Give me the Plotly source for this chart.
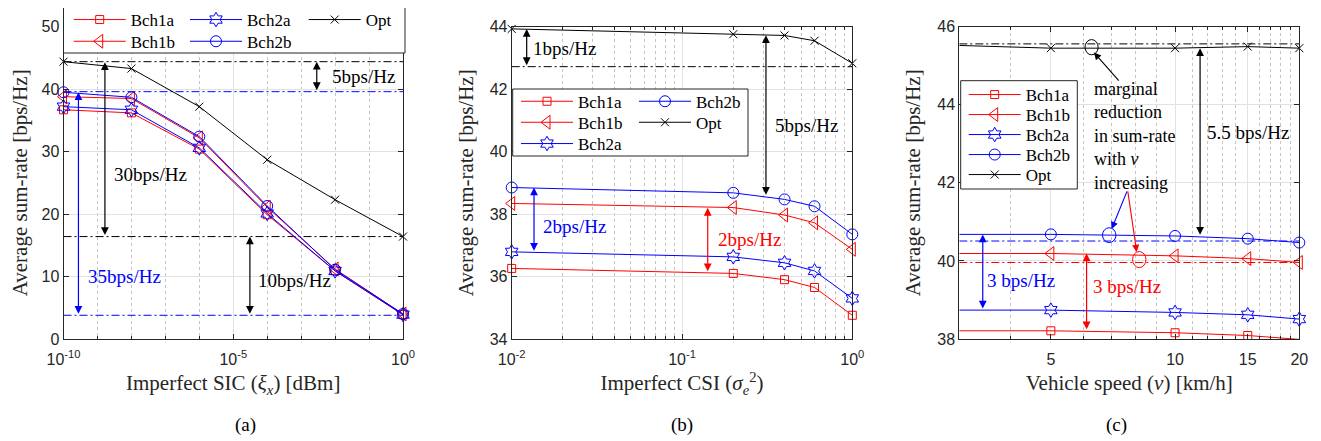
import numpy as np
import plotly.graph_objects as go

# ---- data ----
# (a) imperfect SIC
sic = [1e-10, 1e-8, 1e-6, 1e-4, 1e-2, 1]
a_bch1a = [36.7, 36.2, 30.4, 19.9, 10.9, 3.9]
a_bch1b = [38.8, 38.5, 32.2, 21.1, 11.2, 4.0]
a_bch2a = [37.2, 36.7, 30.6, 20.1, 10.9, 3.9]
a_bch2b = [39.5, 38.7, 32.4, 21.3, 11.1, 4.0]
a_opt = [44.4, 43.3, 37.2, 28.7, 22.3, 16.4]
a_ref_black = [44.4, 16.4]
a_ref_blue = [39.6, 3.8]

# (b) imperfect CSI
csi = [0.01, 0.2, 0.4, 0.6, 1.0]
b_bch1a = [36.26, 36.10, 35.90, 35.65, 34.76]
b_bch1b = [38.34, 38.21, 37.97, 37.72, 36.87]
b_bch2a = [36.79, 36.63, 36.44, 36.18, 35.30]
b_bch2b = [38.85, 38.68, 38.47, 38.25, 37.35]
b_opt = [43.93, 43.76, 43.72, 43.55, 42.83]
b_ref_black = [42.72]

# (c) vehicle speed
speed = [3, 5, 10, 15, 20]
c_bch1a = [38.21, 38.21, 38.16, 38.09, 37.99]
c_bch1b = [40.19, 40.19, 40.13, 40.06, 39.96]
c_bch2a = [38.74, 38.74, 38.68, 38.62, 38.51]
c_bch2b = [40.68, 40.68, 40.64, 40.57, 40.47]
c_opt = [45.52, 45.45, 45.45, 45.49, 45.45]
c_ref_black = [45.56]
c_ref_blue = [40.51]
c_ref_red = [39.96]

RED = "#ff0000"
BLUE = "#0000ff"
BLACK = "#000000"
SERIF = "Liberation Serif, Times New Roman, serif"
SANS = "Liberation Sans, Arial, sans-serif"
# page body has an 8px margin, so the figure is shifted by it
OFF = 8
FW, FH = 1321 - OFF, 441 - OFF
ITEMW = 52

styles = {
    "Bch1a": (RED, "square-open", 8),
    "Bch1b": (RED, "triangle-left-open", 12),
    "Bch2a": (BLUE, "hexagram-open", 11),
    "Bch2b": (BLUE, "circle-open", 11),
    "Opt": (BLACK, "x-thin-open", 8),
}


def px_x(v):
    return (v - OFF) / FW


def px_y(v):
    return 1 - (v - OFF) / FH


fig = go.Figure()
legends = {}
n_leg = [0]


def curve(x, y, name, k, text_x, row_y):
    # every legend entry gets its own small legend so it can sit where the reference has it
    col, sym, size = styles[name]
    n_leg[0] += 1
    lg = "legend" if n_leg[0] == 1 else "legend%d" % n_leg[0]
    legends[lg] = (text_x, row_y)
    fig.add_trace(go.Scatter(
        x=x, y=y, name=name, mode="lines+markers",
        xaxis="x" + k, yaxis="y" + k, legend=lg,
        cliponaxis=False,
        line=dict(color=col, width=1),
        marker=dict(symbol=sym, size=size, color=col, line=dict(width=1, color=col)),
    ))


def ref_line(x, level, color, k):
    fig.add_trace(go.Scatter(
        x=[x[0], x[-1]], y=[level, level], mode="lines", showlegend=False,
        xaxis="x" + k, yaxis="y" + k, hoverinfo="skip",
        line=dict(color=color, width=1, dash="8px,3px,2px,3px"),
    ))


# reference levels first so curves sit on top
for lv in a_ref_black:
    ref_line(sic, lv, BLACK, "")
for lv in a_ref_blue:
    ref_line(sic, lv, BLUE, "")
for lv in b_ref_black:
    ref_line(csi, lv, BLACK, "2")
for lv in c_ref_black:
    ref_line(speed, lv, BLACK, "3")
for lv in c_ref_blue:
    ref_line(speed, lv, BLUE, "3")
for lv in c_ref_red:
    ref_line(speed, lv, RED, "3")

# (a) legend: 3 columns x 2 rows
curve(sic, a_bch1a, "Bch1a", "", 131.7, 20)
curve(sic, a_bch1b, "Bch1b", "", 131.7, 41.7)
curve(sic, a_bch2a, "Bch2a", "", 248, 20)
curve(sic, a_bch2b, "Bch2b", "", 248, 41.7)
curve(sic, a_opt, "Opt", "", 366.7, 20)

# (b) legend: 2 columns x 3 rows
curve(csi, b_bch1a, "Bch1a", "2", 579, 101.7)
curve(csi, b_bch1b, "Bch1b", "2", 579, 122.7)
curve(csi, b_bch2a, "Bch2a", "2", 579, 144)
curve(csi, b_bch2b, "Bch2b", "2", 697, 101.7)
curve(csi, b_opt, "Opt", "2", 697, 122.7)

# (c) legend: 1 column
curve(speed, c_bch1a, "Bch1a", "3", 1026.7, 95)
curve(speed, c_bch1b, "Bch1b", "3", 1026.7, 115)
curve(speed, c_bch2a, "Bch2a", "3", 1026.7, 135)
curve(speed, c_bch2b, "Bch2b", "3", 1026.7, 155)
curve(speed, c_opt, "Opt", "3", 1026.7, 175)

axis_style = dict(
    showline=True, linecolor="#262626", linewidth=1, mirror="ticks",
    ticks="inside", ticklen=5, tickcolor="#262626",
    showgrid=True, gridcolor="#e2e2e2", gridwidth=1, zeroline=False,
    tickfont=dict(family=SANS, size=16, color="#262626"),
)
minor_style = dict(tickmode="array", showgrid=True, griddash="dot",
                   gridcolor="#c4c4c4", ticks="inside", ticklen=3, tickcolor="#262626")
ytitle = dict(text="Average sum-rate [bps/Hz]", font=dict(family=SERIF, size=21, color="#262626"), standoff=10)
xfont = dict(family=SERIF, size=21, color="#262626")
ydom = [px_y(339), px_y(26.7)]
xlab = dict(ticklabelstandoff=6)

fig.update_layout(
    width=FW, height=FH, margin=dict(l=0, r=0, t=0, b=0, autoexpand=False),
    paper_bgcolor="white", plot_bgcolor="white",
    xaxis=dict(axis_style, **xlab, type="log", range=[-10, 0], domain=[px_x(63.5), px_x(403)], anchor="y",
               tickvals=[1e-10, 1e-5, 1], ticktext=["10<sup>-10</sup>", "10<sup>-5</sup>", "10<sup>0</sup>"],
               minor=dict(minor_style, tickvals=[10.0 ** e for e in range(-9, 0) if e != -5]),
               title=dict(text="Imperfect SIC (<i>ξ<sub>x</sub></i>) [dBm]", font=xfont, standoff=8)),
    yaxis=dict(axis_style, range=[0, 50], domain=ydom, anchor="x", tickvals=[0, 10, 20, 30, 40, 50],
               title=ytitle),
    xaxis2=dict(axis_style, **xlab, type="log", range=[-2, 0], domain=[px_x(511.7), px_x(852.3)], anchor="y2",
                tickvals=[0.01, 0.1, 1], ticktext=["10<sup>-2</sup>", "10<sup>-1</sup>", "10<sup>0</sup>"],
                minor=dict(minor_style, tickvals=[m * 0.01 for m in range(2, 10)] + [m * 0.1 for m in range(2, 10)]),
                title=dict(text="Imperfect CSI (<i>σ</i><sub><i>e</i></sub><sup>2</sup>)", font=xfont, standoff=8)),
    yaxis2=dict(axis_style, range=[34, 44], domain=ydom, anchor="x2", tickvals=[34, 36, 38, 40, 42, 44],
                title=ytitle),
    xaxis3=dict(axis_style, **xlab, type="log", range=[np.log10(3), np.log10(20)],
                domain=[px_x(959.3), px_x(1299.3)],
                anchor="y3", tickvals=[5, 10, 15, 20], ticktext=["5", "10", "15", "20"],
                minor=dict(minor_style, tickvals=[4, 6, 7, 8, 9, 11, 12, 13, 14, 16, 17, 18, 19]),
                title=dict(text="Vehicle speed (<i>v</i>) [km/h]", font=xfont, standoff=8)),
    yaxis3=dict(axis_style, range=[38, 46], domain=ydom, anchor="x3", tickvals=[38, 40, 42, 44, 46],
                title=ytitle),
    showlegend=True,
)

leg_common = dict(font=dict(family=SERIF, size=17, color="#000000"), bgcolor="rgba(0,0,0,0)",
                  borderwidth=0, orientation="h", xanchor="left", yanchor="middle",
                  itemclick=False, itemwidth=ITEMW)
for name, (tx, ty) in legends.items():
    fig.update_layout({name: dict(leg_common, x=px_x(tx - ITEMW - 11), y=px_y(ty))})

# legend boxes (paper coords)
for x0, y0, x1, y1 in [(63.5, 7, 405, 53), (512.7, 89, 748, 156), (960.7, 80.7, 1077.3, 189)]:
    fig.add_shape(type="rect", xref="paper", yref="paper", layer="above",
                  x0=px_x(x0), x1=px_x(x1), y0=px_y(y1), y1=px_y(y0),
                  fillcolor="white", line=dict(color="#262626", width=1))

# ellipses in (c)
for x0, x1, y0, y1, col in [(6.05, 6.51, 45.28, 45.67, BLACK), (6.67, 7.19, 40.47, 40.85, BLUE),
                            (7.89, 8.50, 39.83, 40.24, RED)]:
    fig.add_shape(type="circle", xref="x3", yref="y3", x0=x0, x1=x1, y0=y0, y1=y1,
                  line=dict(color=col, width=1))

ann = []


def gap(k, x, y0, y1, color):
    ann.append(dict(xref="x" + k, yref="y" + k, axref="x" + k, ayref="y" + k,
                    x=np.log10(x), y=y1, ax=np.log10(x), ay=y0, text="", showarrow=True,
                    arrowside="end+start", arrowhead=2, startarrowhead=2,
                    arrowsize=1.3, startarrowsize=1.3, arrowwidth=1.2, arrowcolor=color))


def pointer(k, xt, yt, xh, yh, color):
    ann.append(dict(xref="x" + k, yref="y" + k, axref="x" + k, ayref="y" + k,
                    x=np.log10(xh), y=yh, ax=np.log10(xt), ay=yt, text="", showarrow=True,
                    arrowhead=2, arrowsize=1.3, arrowwidth=1.1, arrowcolor=color))


def label(k, x, y, text, color, anchor="center", size=19):
    ann.append(dict(xref="x" + k, yref="y" + k, x=np.log10(x), y=y, text=text, showarrow=False,
                    xanchor=anchor, align="left", font=dict(family=SERIF, size=size, color=color)))


# (a)
gap("", 10 ** -2.54, 39.6, 44.4, BLACK)
gap("", 10 ** -8.78, 16.4, 44.3, BLACK)
gap("", 10 ** -9.56, 3.8, 39.5, BLUE)
gap("", 10 ** -4.51, 3.8, 16.4, BLACK)
label("", 10 ** -1.16, 42.1, "5bps/Hz", BLACK)
label("", 10 ** -7.44, 26.4, "30bps/Hz", BLACK)
label("", 10 ** -8.19, 10.0, "35bps/Hz", BLUE)
label("", 10 ** -3.21, 9.3, "10bps/Hz", BLACK)
# (b)
gap("2", 10 ** -1.912, 42.72, 43.93, BLACK)
gap("2", 10 ** -0.507, 38.57, 43.73, BLACK)
gap("2", 10 ** -1.869, 36.78, 38.85, BLUE)
gap("2", 10 ** -0.849, 36.12, 38.2, RED)
label("2", 10 ** -1.687, 43.31, "1bps/Hz", BLACK)
label("2", 10 ** -0.269, 40.85, "5bps/Hz", BLACK)
label("2", 10 ** -1.634, 37.6, "2bps/Hz", BLUE)
label("2", 10 ** -0.601, 37.2, "2bps/Hz", RED)
# (c)
gap("3", 10 ** 1.0606, 40.63, 45.45, BLACK)
gap("3", 10 ** 0.534, 38.74, 40.68, BLUE)
gap("3", 10 ** 0.7856, 38.21, 40.19, RED)
label("3", 10 ** 1.176, 43.3, "5.5 bps/Hz", BLACK)
label("3", 10 ** 0.626, 39.5, "3 bps/Hz", BLUE)
label("3", 10 ** 0.8847, 39.35, "3 bps/Hz", RED)
label("3", 10 ** 0.7978, 43.19, "marginal<br>reduction<br>in sum-rate<br>with <i>v</i><br>increasing", BLACK,
      "left", 18)
pointer("3", 10 ** 0.8667, 44.58, 10 ** 0.8034, 45.34, BLACK)
pointer("3", 10 ** 0.8849, 41.82, 10 ** 0.8463, 40.82, BLUE)
pointer("3", 10 ** 0.8849, 41.82, 10 ** 0.907, 40.23, RED)

# panel captions
for xc, cap in [(233, "(a)"), (682, "(b)"), (1129, "(c)")]:
    ann.append(dict(xref="paper", yref="paper", x=px_x(xc), y=px_y(425), yanchor="middle",
                    text=cap, showarrow=False, font=dict(family=SERIF, size=19, color="#000000")))

fig.update_layout(annotations=ann)

fig.write_html("out.html")
